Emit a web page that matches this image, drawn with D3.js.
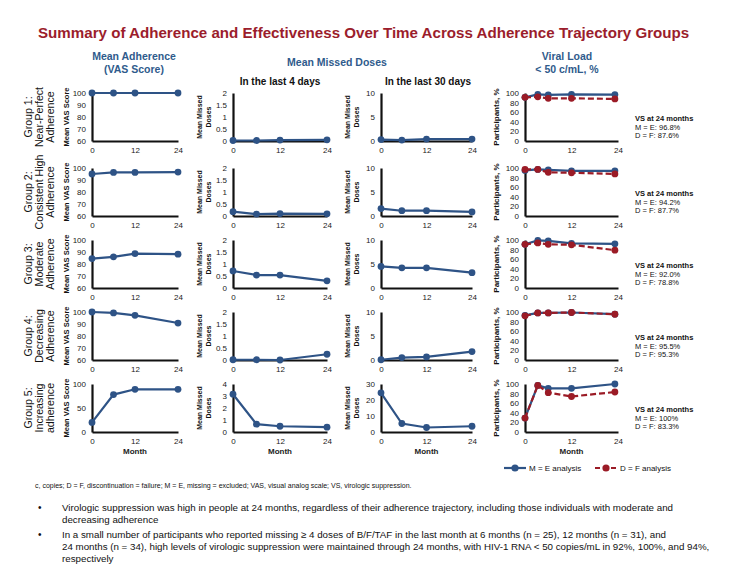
<!DOCTYPE html>
<html><head><meta charset="utf-8">
<script src="https://cdn.jsdelivr.net/npm/d3@7"></script>
<style>
html,body{margin:0;padding:0;background:#fff;}
svg{display:block;font-family:"Liberation Sans",Arial,sans-serif;}
</style></head>
<body>
<svg id="chart" width="730" height="584"></svg>
<script>
// ---------------- DATA ----------------
const titleText = "Summary of Adherence and Effectiveness Over Time Across Adherence Trajectory Groups";
const months = [0, 6, 12, 24];
const missed30Months = [0, 5.5, 12, 24];
const vlMonths = [0, 3.3, 6, 12, 23.2];
const xTicks = [0, 12, 24];

const groupLabels = [
  ["Group 1:", "Near-Perfect", "Adherence"],
  ["Group 2:", "Consistent High", "Adherence"],
  ["Group 3:", "Moderate", "Adherence"],
  ["Group 4:", "Decreasing", "Adherence"],
  ["Group 5:", "Increasing", "adherence"]
];

const vasScore = [
  [100, 100, 100, 100],
  [95, 96.3, 96.3, 96.6],
  [84.5, 86, 88.7, 88.2],
  [100, 99.2, 97.2, 90.8],
  [20, 78, 89, 89]
];
const missed4Days = [
  [0.02, 0.02, 0.04, 0.05],
  [0.18, 0.08, 0.1, 0.09],
  [0.71, 0.54, 0.54, 0.3],
  [0.01, 0.01, 0, 0.24],
  [3.15, 0.65, 0.48, 0.4]
];
const missed30Days = [
  [0.3, 0.2, 0.4, 0.4],
  [1.55, 1.1, 1.1, 0.85],
  [4.5, 4.2, 4.2, 3.2],
  [0.05, 0.5, 0.65, 1.75],
  [24.5, 5.3, 2.8, 3.6]
];
const vlME = [
  [91, 97, 96, 97, 96.8],
  [95, 97, 96, 94, 94.2],
  [91, 99, 98, 93, 92.0],
  [93, 98, 98, 99, 95.5],
  [29, 97, 91, 91, 100]
];
const vlDF = [
  [91, 92, 89, 89, 87.6],
  [97, 97, 91, 90, 87.7],
  [91, 94, 91, 90, 78.8],
  [92, 98, 98, 99, 95.3],
  [29, 97, 82, 74, 83.3]
];
const vsME = ["96.8%", "94.2%", "92.0%", "95.5%", "100%"];
const vsDF = ["87.6%", "87.7%", "78.8%", "95.3%", "83.3%"];

const vasDomains = [[60,100],[60,100],[60,100],[60,100],[0,100]];
const vasTicks = [[60,70,80,90,100],[60,70,80,90,100],[60,70,80,90,100],[60,70,80,90,100],[0,50,100]];
const m4Domains = [[0,2],[0,2],[0,2],[0,2],[0,4]];
const m4Ticks = [[0,0.5,1,1.5,2],[0,0.5,1,1.5,2],[0,0.5,1,1.5,2],[0,0.5,1,1.5,2],[0,1,2,3,4]];
const m30Domains = [[0,10],[0,10],[0,10],[0,10],[0,30]];
const m30Ticks = [[0,5,10],[0,5,10],[0,5,10],[0,5,10],[0,10,20,30]];
const vlDomain = [0, 100];
const vlTicks = [0, 20, 40, 60, 80, 100];

const legendLabels = ["M = E analysis", "D = F analysis"];
const footnote = "c, copies; D = F, discontinuation = failure; M = E, missing = excluded; VAS, visual analog scale; VS, virologic suppression.";
const bullets = [
  ["Virologic suppression was high in people at 24 months, regardless of their adherence trajectory, including those individuals with moderate and",
   "decreasing adherence"],
  ["In a small number of participants who reported missing \u2265 4 doses of B/F/TAF in the last month at 6 months (n = 25), 12 months (n = 31), and",
   "24 months (n = 34), high levels of virologic suppression were maintained through 24 months, with HIV-1 RNA < 50 copies/mL in 92%, 100%, and 94%,",
   "respectively"]
];

// ---------------- LAYOUT ----------------
const BLUE = "#2E5386", RED = "#9B1B26", HEAD = "#2F5B8C", TITLE = "#9B1D2C";
const svg = d3.select("#chart");
const cols = [{x0:92,x1:178},{x0:233,x1:327},{x0:381,x1:472},{x0:525,x1:618}];
const rowTops = [93, 168, 240, 312, 384];
const rowH = 48;

function fitText(sel, w){
  const n = sel.node(); let fs = parseFloat(sel.attr("font-size"));
  const len = n.getComputedTextLength();
  sel.attr("font-size", (fs * w / len).toFixed(2));
}

// Title
const t = svg.append("text").attr("x", 38).attr("y", 38).attr("font-size", 15)
  .attr("font-weight", "bold").attr("fill", TITLE).text(titleText);
fitText(t, 652);

// Column headers
function header(lines, cx, y0, color, fs){
  lines.forEach((l,i)=>svg.append("text").attr("x",cx).attr("y",y0+i*12.5)
    .attr("text-anchor","middle").attr("font-size",fs).attr("font-weight","bold")
    .attr("fill",color).text(l));
}
header(["Mean Adherence","(VAS Score)"], 134, 60, HEAD, 10.5);
header(["Mean Missed Doses"], 337, 66, HEAD, 10.5);
header(["Viral Load","< 50 c/mL, %"], 567, 60, HEAD, 10.5);
header(["In the last 4 days"], 280, 85, "#111", 10);
header(["In the last 30 days"], 428, 85, "#111", 10);

function drawPanel(r, c, domain, ticks, seriesList){
  const col = cols[c];
  const top = rowTops[r], bot = top + rowH;
  const x = d3.scaleLinear().domain([0,24]).range([col.x0, col.x1]);
  const y = d3.scaleLinear().domain(domain).range([bot, top]);
  const g = svg.append("g");
  const ya = g.append("g").attr("transform",`translate(${col.x0},0)`)
    .call(d3.axisLeft(y).tickValues(ticks).tickSize(0).tickPadding(6).tickFormat(d3.format("")));
  const xa = g.append("g").attr("transform",`translate(0,${bot})`)
    .call(d3.axisBottom(x).tickValues(xTicks).tickSize(0).tickPadding(6));
  [ya, xa].forEach(a=>{
    a.select(".domain").attr("stroke","#111").attr("stroke-width",2.2);
    a.selectAll("text").attr("font-size",8).attr("fill","#222")
      .attr("font-family","'Liberation Sans',Arial,sans-serif");
  });
  seriesList.forEach(s=>{
    const pts = s.xs.map((m,i)=>[m, s.vals[i]]);
    const line = d3.line().x(d=>x(d[0])).y(d=>y(d[1]));
    g.append("path").attr("d", line(pts)).attr("fill","none").attr("stroke", s.color)
      .attr("stroke-width",2.2).attr("stroke-dasharray", s.dash || null);
    g.selectAll(null).data(pts).enter().append("circle")
      .attr("cx",d=>x(d[0])).attr("cy",d=>y(d[1])).attr("r",3.4).attr("fill",s.color);
  });
  if (r === 4) {
    g.append("text").attr("x",(col.x0+col.x1)/2).attr("y",bot+22).attr("text-anchor","middle")
      .attr("font-size",8).attr("font-weight","bold").attr("fill","#222").text("Month");
  }
  return {x, y, top, bot};
}

function rotLabel(lines, cx, cy, fs, weight, gap){
  const n = lines.length;
  lines.forEach((l,i)=>{
    const off = (i - (n-1)/2) * gap;
    svg.append("text").attr("transform",`translate(${cx+off},${cy}) rotate(-90)`)
      .attr("text-anchor","middle").attr("dy","0.35em").attr("font-size",fs)
      .attr("font-weight",weight).attr("fill","#111").text(l);
  });
}

for (let r = 0; r < 5; r++){
  const top = rowTops[r], cy = top + rowH/2;
  rotLabel(groupLabels[r], 39, cy, 10.6, "normal", 11);
  rotLabel(["Mean VAS Score"], 66, cy, 7.5, "bold", 0);
  rotLabel(["Mean Missed","Doses"], 204.5, cy, 7, "bold", 9);
  rotLabel(["Mean Missed","Doses"], 352.5, cy, 7, "bold", 9);
  rotLabel(["Participants, %"], 496, cy, 8, "bold", 0);

  drawPanel(r, 0, vasDomains[r], vasTicks[r], [{xs:months, vals:vasScore[r], color:BLUE}]);
  drawPanel(r, 1, m4Domains[r], m4Ticks[r], [{xs:months, vals:missed4Days[r], color:BLUE}]);
  drawPanel(r, 2, m30Domains[r], m30Ticks[r], [{xs:missed30Months, vals:missed30Days[r], color:BLUE}]);
  drawPanel(r, 3, vlDomain, vlTicks, [
    {xs:vlMonths, vals:vlME[r], color:BLUE},
    {xs:vlMonths, vals:vlDF[r], color:RED, dash:"6,3"}
  ]);

  const vs = svg.append("g").attr("font-size",7.5).attr("fill","#111");
  vs.append("text").attr("x",635).attr("y",top+28).attr("font-weight","bold").text("VS at 24 months");
  vs.append("text").attr("x",635).attr("y",top+36.5).text("M = E: " + vsME[r]);
  vs.append("text").attr("x",635).attr("y",top+45).text("D = F: " + vsDF[r]);
}

// Legend
const lg = svg.append("g");
[{x:504, color:BLUE, dash:null, label:legendLabels[0]},
 {x:595, color:RED, dash:"5,3", label:legendLabels[1]}].forEach(d=>{
  lg.append("line").attr("x1",d.x).attr("x2",d.x+22).attr("y1",468).attr("y2",468)
    .attr("stroke",d.color).attr("stroke-width",2.2).attr("stroke-dasharray",d.dash);
  lg.append("circle").attr("cx",d.x+11).attr("cy",468).attr("r",3.6).attr("fill",d.color);
  lg.append("text").attr("x",d.x+25).attr("y",471).attr("font-size",8).attr("fill","#111").text(d.label);
});

// Footnote
const fn = svg.append("text").attr("x",35).attr("y",488).attr("font-size",6.5).attr("fill","#111").text(footnote);
fitText(fn, 377);

// Bullets
const bl = [[511, 523], [538, 550, 562]];
let bfs = null;
bullets.forEach((b,bi)=>{
  svg.append("text").attr("x",38).attr("y",bl[bi][0]).attr("font-size",10).attr("fill","#111").text("\u2022");
  b.forEach((line,li)=>{
    const tx = svg.append("text").attr("x",62).attr("y",bl[bi][li]).attr("font-size",10).attr("fill","#111").text(line);
    if (bi===0 && li===0){ fitText(tx, 611); bfs = tx.attr("font-size"); }
    else tx.attr("font-size", bfs);
  });
});
</script>
</body></html>
